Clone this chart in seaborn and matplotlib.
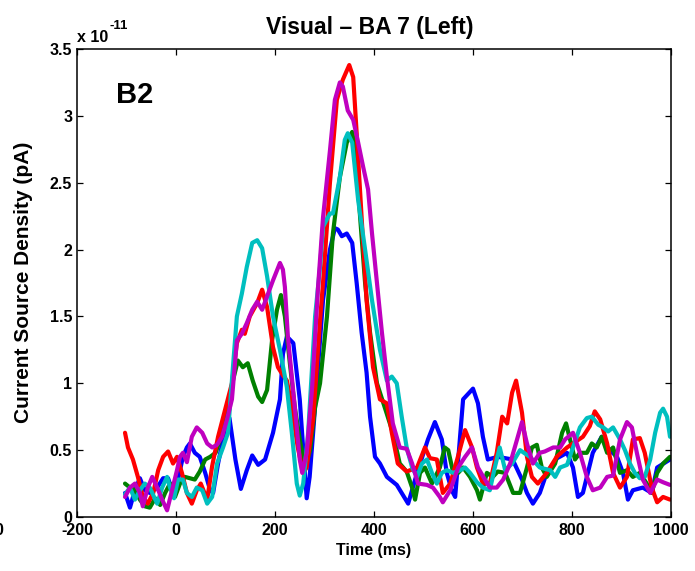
import numpy as np
import pandas as pd
import matplotlib
matplotlib.use("Agg")
import matplotlib.pyplot as plt
from matplotlib import font_manager
import seaborn as sns

# ---------------- data (values in units of 1e-11) ----------------
blue_t = [-103,-93,-83,-73,-63,-53,-38,-26,-16,-6,4,14,22,28,38,48,59,69,75,85,95,108,120,131,143,154,166,180,196,210,216,224,237,250,259,264,270,277,297,311,321,327,335,345,356,365,375,385,392,402,412,426,446,469,487,509,523,537,547,557,564,580,600,610,620,630,650,680,699,709,721,735,749,770,790,802,812,822,842,860,873,891,903,913,923,943,961,972,998]
blue_v = [0.18,0.07,0.20,0.29,0.20,0.18,0.22,0.29,0.29,0.18,0.28,0.45,0.52,0.55,0.48,0.45,0.33,0.20,0.18,0.40,0.58,0.74,0.43,0.21,0.35,0.46,0.39,0.43,0.63,0.88,1.22,1.35,1.30,0.88,0.40,0.14,0.30,0.63,1.62,2.00,2.16,2.15,2.10,2.12,2.05,1.75,1.38,1.08,0.75,0.45,0.40,0.30,0.24,0.10,0.33,0.58,0.71,0.58,0.33,0.20,0.15,0.88,0.96,0.85,0.60,0.43,0.45,0.43,0.28,0.18,0.10,0.18,0.33,0.44,0.48,0.37,0.15,0.18,0.48,0.60,0.51,0.45,0.33,0.13,0.20,0.22,0.18,0.37,0.43]

green_t = [-103,-93,-83,-73,-63,-53,-42,-32,-22,-12,-2,8,18,28,38,48,59,69,80,89,103,115,125,135,145,155,166,174,184,194,204,212,220,230,240,250,261,271,281,291,305,317,331,345,356,362,372,382,392,406,426,438,452,466,477,483,493,503,517,533,543,550,560,570,580,594,608,614,628,640,650,665,681,695,709,719,729,739,749,766,780,788,796,806,816,830,840,850,860,871,883,897,911,923,937,951,961,972,984,998]
green_v = [0.25,0.22,0.20,0.13,0.08,0.07,0.14,0.09,0.18,0.25,0.15,0.25,0.30,0.29,0.28,0.34,0.43,0.45,0.48,0.58,0.80,1.02,1.17,1.12,1.15,1.02,0.90,0.86,0.95,1.32,1.55,1.66,1.50,1.15,0.82,0.58,0.37,0.50,0.82,1.00,1.50,2.12,2.54,2.80,2.88,2.74,2.24,1.75,1.38,1.00,0.77,0.63,0.40,0.34,0.22,0.13,0.33,0.37,0.25,0.37,0.52,0.50,0.33,0.33,0.37,0.30,0.20,0.13,0.33,0.30,0.34,0.33,0.18,0.18,0.37,0.52,0.54,0.37,0.30,0.40,0.63,0.70,0.58,0.43,0.48,0.48,0.55,0.52,0.60,0.48,0.52,0.33,0.35,0.30,0.33,0.25,0.18,0.33,0.40,0.45]

red_t = [-103,-97,-87,-77,-67,-57,-46,-36,-26,-16,-6,2,12,22,32,42,50,63,73,85,99,113,123,133,139,149,164,174,184,196,206,216,224,234,246,257,264,277,291,297,311,325,337,350,358,365,375,385,398,412,426,436,448,466,487,503,513,527,539,554,568,584,598,608,620,634,648,659,669,679,687,699,709,719,731,749,769,790,810,822,836,846,857,871,883,897,911,923,937,947,961,972,984,998]
red_v = [0.63,0.52,0.43,0.30,0.15,0.10,0.18,0.35,0.45,0.49,0.40,0.45,0.33,0.18,0.10,0.20,0.25,0.13,0.38,0.60,0.80,1.00,1.30,1.40,1.37,1.50,1.60,1.70,1.57,1.27,1.12,1.06,1.02,0.82,0.52,0.33,0.37,0.73,1.47,1.75,2.50,3.12,3.27,3.38,3.29,2.87,2.24,1.62,1.12,0.88,0.85,0.63,0.40,0.34,0.37,0.52,0.44,0.43,0.18,0.25,0.43,0.65,0.52,0.37,0.25,0.25,0.48,0.75,0.70,0.93,1.02,0.78,0.45,0.30,0.25,0.33,0.45,0.52,0.57,0.60,0.68,0.79,0.73,0.55,0.33,0.22,0.30,0.58,0.59,0.48,0.22,0.11,0.15,0.13]

cyan_t = [-103,-93,-83,-73,-63,-53,-38,-28,-18,-12,-4,4,14,22,32,42,53,63,73,83,95,105,115,123,133,143,154,164,174,184,196,210,224,234,244,250,257,267,281,291,297,311,317,331,341,347,356,368,382,396,412,426,436,446,456,466,477,487,497,507,517,527,537,547,560,574,584,594,608,620,634,644,654,665,679,695,715,735,756,766,776,790,802,816,830,840,853,863,873,883,897,907,917,927,937,947,958,968,978,984,992,998]
cyan_v = [0.17,0.22,0.13,0.20,0.25,0.22,0.10,0.22,0.30,0.22,0.14,0.28,0.28,0.18,0.15,0.22,0.20,0.10,0.15,0.40,0.52,0.63,1.12,1.50,1.67,1.87,2.05,2.07,2.01,1.80,1.50,1.25,0.97,0.63,0.25,0.16,0.25,0.63,1.50,1.87,2.17,2.27,2.27,2.54,2.82,2.87,2.80,2.37,2.00,1.62,1.25,1.02,1.05,1.00,0.75,0.52,0.37,0.30,0.40,0.43,0.33,0.25,0.33,0.35,0.33,0.35,0.37,0.33,0.26,0.22,0.20,0.37,0.52,0.35,0.40,0.50,0.45,0.37,0.35,0.30,0.37,0.39,0.52,0.67,0.74,0.75,0.69,0.67,0.64,0.67,0.58,0.50,0.40,0.33,0.29,0.30,0.43,0.63,0.78,0.81,0.75,0.60]

magenta_t = [-103,-93,-83,-73,-67,-57,-48,-38,-28,-18,-8,2,8,14,22,32,42,53,63,73,83,93,103,113,123,133,143,154,164,174,184,196,210,216,220,226,236,244,250,255,264,275,287,297,311,321,331,337,347,358,368,378,388,396,406,416,426,438,452,466,477,489,507,519,533,539,554,570,584,598,610,624,634,648,661,675,689,699,709,721,735,745,762,776,786,802,816,830,842,857,871,883,897,911,921,931,943,958,972,984,998]
magenta_v = [0.15,0.22,0.25,0.18,0.08,0.22,0.30,0.22,0.13,0.05,0.20,0.35,0.45,0.48,0.41,0.60,0.67,0.63,0.55,0.52,0.54,0.60,0.73,0.88,1.32,1.37,1.45,1.55,1.61,1.55,1.65,1.77,1.90,1.85,1.72,1.35,0.97,0.67,0.43,0.33,0.48,0.97,1.72,2.24,2.74,3.12,3.25,3.22,3.04,2.97,2.80,2.62,2.45,2.12,1.75,1.38,1.05,0.70,0.52,0.51,0.40,0.25,0.24,0.22,0.15,0.11,0.20,0.37,0.45,0.52,0.37,0.28,0.22,0.22,0.28,0.40,0.58,0.71,0.55,0.40,0.48,0.49,0.52,0.52,0.58,0.63,0.48,0.30,0.20,0.22,0.30,0.31,0.58,0.71,0.67,0.48,0.28,0.18,0.28,0.26,0.24]

series_names = ["blue", "green", "red", "cyan", "magenta"]
series_t = [blue_t, green_t, red_t, cyan_t, magenta_t]
series_v = [blue_v, green_v, red_v, cyan_v, magenta_v]
series_colors = {"blue": "#0000ff", "green": "#008000", "red": "#ff0000",
                 "cyan": "#00bfbf", "magenta": "#bf00bf"}

x_ticks = [-200, 0, 200, 400, 600, 800, 1000]
y_ticks = [0, 0.5, 1, 1.5, 2, 2.5, 3, 3.5]
y_tick_labels = ["0", "0.5", "1", "1.5", "2", "2.5", "3", "3.5"]

title_text = "Visual \u2013 BA 7 (Left)"
xlabel_text = "Time (ms)"
ylabel_text = "Current Source Density (pA)"
panel_label = "B2"

# ---------------- build long-form table ----------------
frames = []
for name, t, v in zip(series_names, series_t, series_v):
    frames.append(pd.DataFrame({"t": t, "v": v, "series": name}))
df = pd.concat(frames, ignore_index=True)

# ---------------- style ----------------
sns.set_theme(style="ticks")
names = {f.name for f in font_manager.fontManager.ttflist}
narrow = "Liberation Sans Narrow" if "Liberation Sans Narrow" in names else "Liberation Sans"
plt.rcParams["font.family"] = ["Liberation Sans", "DejaVu Sans"]
plt.rcParams["text.color"] = "black"

W, H = 695, 571
fig = plt.figure(figsize=(W / 100, H / 100), dpi=100)
fig.patch.set_facecolor("white")
ax_l, ax_r, ax_t, ax_b = 77, 671, 49, 517
ax = fig.add_axes([ax_l / W, 1 - ax_b / H, (ax_r - ax_l) / W, (ax_b - ax_t) / H])
ax.set_facecolor("white")

sns.lineplot(data=df, x="t", y="v", hue="series", hue_order=series_names,
             palette=series_colors, estimator=None, sort=False,
             linewidth=3.0, legend=False, ax=ax)

ax.set_xlim(-200, 1000)
ax.set_ylim(0, 3.5)
ax.set_xticks(x_ticks)
ax.set_xticklabels([str(x) for x in x_ticks])
ax.set_yticks(y_ticks)
ax.set_yticklabels(y_tick_labels)
ax.set_xlabel("")
ax.set_ylabel("")

for s in ax.spines.values():
    s.set_visible(True)
    s.set_color("black")
    s.set_linewidth(1.1)

tick_fs = 13 if narrow != "Liberation Sans" else 11.5
ax.tick_params(axis="both", which="major", direction="in", length=4.5, width=0.9,
               top=True, right=True, color="black", labelcolor="black")
ax.tick_params(axis="x", pad=4.0)
ax.tick_params(axis="y", pad=3.5)
for lab in ax.get_xticklabels() + ax.get_yticklabels():
    lab.set_fontfamily([narrow, "Liberation Sans"])
    lab.set_fontweight("bold")
    lab.set_fontsize(tick_fs)

# labels and annotations
fig.text(370 / W, 1 - 34 / H, title_text, ha="center", va="baseline", color="black",
         fontsize=16.5, fontweight="bold", family=["Liberation Sans", "DejaVu Sans"])
fig.text(374 / W, 1 - 555 / H, xlabel_text, ha="center", va="baseline", color="black",
         fontsize=tick_fs, fontweight="bold", family=[narrow, "Liberation Sans"])
fig.text(24 / W, 1 - 282 / H, ylabel_text, ha="center", va="center", rotation=90,
         color="black", fontsize=15, fontweight="bold",
         family=["Liberation Sans", "DejaVu Sans"])
fig.text(116 / W, 1 - 103 / H, panel_label, ha="left", va="baseline", color="black",
         fontsize=21, fontweight="bold", family=["Liberation Sans", "DejaVu Sans"])
fig.text(77 / W, 1 - 41.5 / H, "x 10", ha="left", va="baseline", color="black",
         fontsize=tick_fs, fontweight="bold", family=[narrow, "Liberation Sans"])
fig.text(110 / W, 1 - 29 / H, "-11", ha="left", va="baseline", color="black",
         fontsize=9.5, fontweight="bold", family=[narrow, "Liberation Sans"])
fig.text(3.5 / W, 1 - 535 / H, "0", ha="right", va="baseline", color="black",
         fontsize=tick_fs, fontweight="bold", family=[narrow, "Liberation Sans"])

fig.savefig("out.png", dpi=100, facecolor="white")
